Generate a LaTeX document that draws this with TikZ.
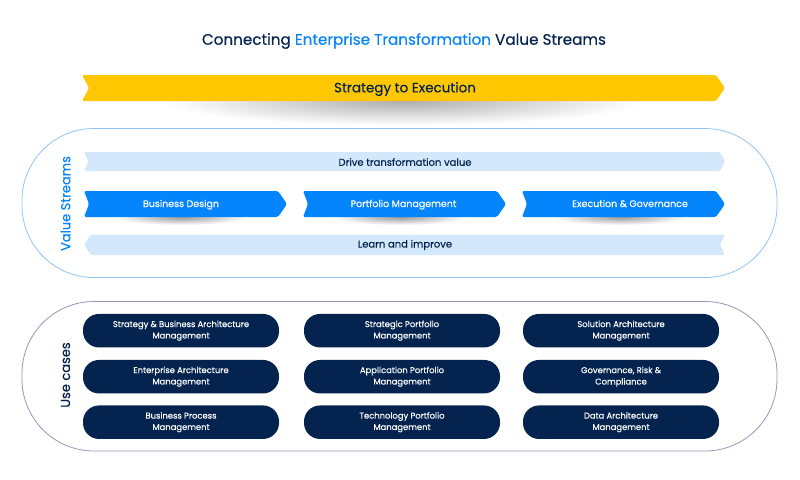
\documentclass[tikz,border=0pt]{standalone}
\usepackage{fontspec}
\setmainfont{Poppins}[FakeBold=0.35]
\definecolor{navy}{HTML}{04244F}
\definecolor{vivid}{HTML}{0585FB}
\definecolor{pale}{HTML}{D4E8FB}
\definecolor{gold}{HTML}{FFC700}
\definecolor{ringblue}{HTML}{8FC4F8}
\definecolor{ringnavy}{HTML}{8F9BB8}
\tikzset{
  ring/.style={line width=0.8pt,rounded corners=72pt},
  banner/.style={rounded corners=1.5pt},
  glow/.style={inner color=#1,outer color=white,draw=none},
  pill/.style={fill=navy,draw=none,rounded corners=16pt,minimum width=196pt,minimum height=33.5pt,inner sep=0pt,
     text=white,font=\fontsize{8.4}{11.4}\selectfont,align=center},
  stream/.style={text=white,font=\fontsize{9.5}{12}\selectfont},
  palelabel/.style={text=navy,font=\fontsize{10}{12}\selectfont},
  side/.style={rotate=90,font=\fontsize{13}{16}\selectfont},
}
\begin{document}
\begin{tikzpicture}[x=1pt,y=-1pt]
\useasboundingbox (0,0) rectangle (800,479);
\fill[white] (0,0) rectangle (800,479);
% shadows
\shade[glow=black!32] (403,101) ellipse (240 and 24);
\shade[glow=black!40] (181,217) ellipse (66 and 8);
\shade[glow=black!40] (400,217) ellipse (66 and 8);
\shade[glow=black!40] (620,217) ellipse (66 and 8);
% main banner
\fill[gold,banner] (82,75) -- (716,75) -- (725,88) -- (716,101) -- (82,101) -- (89,88) -- cycle;
\node[font=\fontsize{13.5}{14}\selectfont,text=navy] (strategy) at (405,89) {Strategy to Execution};
% rings
\draw[ringblue,ring] (22,128.5) rectangle (777,277.5);
\draw[ringnavy,ring] (22,301.5) rectangle (777,451);
% pale bands
\fill[pale,banner] (84,152) -- (720,152) -- (725,161.5) -- (720,171) -- (84,171) -- (88.5,161.5) -- cycle;
\fill[pale,banner] (91,234.5) -- (725,234.5) -- (720,244.5) -- (725,255) -- (91,255) -- (84,244.5) -- cycle;
\node[palelabel] (drive) at (405,162) {Drive transformation value};
\node[palelabel] (learn) at (405,245) {Learn and improve};
% streams
\fill[vivid,banner] (84,191) -- (278,191) -- (287,204) -- (278,217) -- (84,217) -- (89,204) -- cycle;
\fill[vivid,banner] (303,191) -- (497,191) -- (506,204) -- (497,217) -- (303,217) -- (308,204) -- cycle;
\fill[vivid,banner] (522,191) -- (716,191) -- (725,204) -- (716,217) -- (522,217) -- (527,204) -- cycle;
\node[stream,anchor=base] (design) at (181,207) {Business Design};
\node[stream,anchor=base] (portfolio) at (403.5,207) {Portfolio Management};
\node[stream,anchor=base] (execution) at (630,207) {Execution \& Governance};
% side labels
\node[side,text=vivid] (vs) at (65.5,203.5) {Value Streams};
\node[side,text=navy] (uc) at (65.5,375) {Use cases};
% title
\node[font=\fontsize{15.2}{18}\selectfont,text=navy] (title) at (404,41) {Connecting \textcolor{vivid}{Enterprise Transformation} Value Streams};
% pills
\node[pill] (p11) at (181,330.7) {Strategy \& Business Architecture\\Management};
\node[pill] (p12) at (402,330.7) {Strategic Portfolio\\Management};
\node[pill] (p13) at (621,330.7) {Solution Architecture\\Management};
\node[pill] (p21) at (181,376.7) {Enterprise Architecture\\Management};
\node[pill] (p22) at (402,376.7) {Application Portfolio\\Management};
\node[pill] (p23) at (621,376.7) {Governance, Risk \&\\Compliance};
\node[pill] (p31) at (181,422.2) {Business Process\\Management};
\node[pill] (p32) at (402,422.2) {Technology Portfolio\\Management};
\node[pill] (p33) at (621,422.2) {Data Architecture\\Management};
\end{tikzpicture}
\end{document}
